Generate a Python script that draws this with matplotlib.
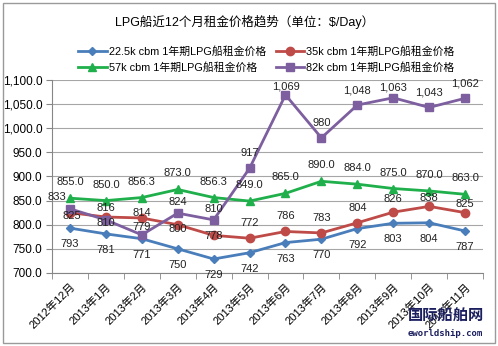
import matplotlib.pyplot as plt
from matplotlib.ticker import FuncFormatter, FixedLocator
from matplotlib.patches import Rectangle

plt.rcParams['font.family'] = ['Liberation Sans', 'Noto Sans CJK SC', 'DejaVu Sans']

months = ['2012年12月', '2013年1月', '2013年2月', '2013年3月', '2013年4月', '2013年5月',
          '2013年6月', '2013年7月', '2013年8月', '2013年9月', '2013年10月', '2013年11月']
s22 = [793, 781, 771, 750, 729, 742, 763, 770, 792, 803, 804, 787]
s35 = [825, 816, 814, 800, 778, 772, 786, 783, 804, 826, 838, 825]
s57 = [855.0, 850.0, 856.3, 873.0, 856.3, 849.0, 865.0, 890.0, 884.0, 875.0, 870.0, 863.0]
s82 = [833, 810, 779, 824, 810, 917, 1069, 980, 1048, 1063, 1043, 1062]
names = ['22.5k cbm 1年期LPG船租金价格', '35k cbm 1年期LPG船租金价格',
         '57k cbm 1年期LPG船租金价格', '82k cbm 1年期LPG船租金价格']

fig = plt.figure(figsize=(4.98, 3.46), dpi=100)
ax = fig.add_axes([0.1044, 0.211, 0.8656, 0.558])
x = list(range(len(months)))

styles = [
    dict(color='#4A7EBB', marker='D', ms=4.5, fmt='{:,.0f}', dy=16, over={}),
    dict(color='#BE4B48', marker='o', ms=6, fmt='{:,.0f}', dy=-15,
         over={0: (2, 3), 1: (0, -9), 2: (0, -5), 3: (0, 4), 4: (0, 1), 9: (0, -13), 10: (0, -8), 11: (0, -9)}),
    dict(color='#1FAF4B', marker='^', ms=6, fmt='{:,.1f}', dy=-16, over={}),
    dict(color='#7D5FA0', marker='s', ms=6, fmt='{:,.0f}', dy=-15,
         over={0: (-13, -12), 1: (0, 3), 2: (0, -8), 3: (0, -11), 4: (0, -11), 6: (0, -8), 9: (0, -10)}),
]

handles = []
for vals, name, st in zip([s22, s35, s57, s82], names, styles):
    h, = ax.plot(x, vals, color=st['color'], lw=2.0, marker=st['marker'], ms=st['ms'],
                 label=name, zorder=3)
    handles.append(h)
    for i, v in enumerate(vals):
        dx, dy = st['over'].get(i, (0, st['dy']))
        ax.annotate(st['fmt'].format(v), (i, v), xytext=(dx, -dy), textcoords='offset pixels',
                    ha='center', va='center', fontsize=8, color='#222222', zorder=4)

ax.set_xlim(-0.5, len(months) - 0.5)
ax.set_ylim(700, 1100)
ax.set_yticks(range(700, 1101, 50))
ax.yaxis.set_major_formatter(FuncFormatter(lambda v, p: '{:,.1f}'.format(v)))
ax.grid(axis='y', color='#A6A6A6', lw=0.8)
ax.set_axisbelow(True)

ax.set_xticks(x)
ax.set_xticklabels(months, rotation=45, ha='right', rotation_mode='anchor', fontsize=8)
ax.xaxis.set_minor_locator(FixedLocator([i - 0.5 for i in range(len(months) + 1)]))
ax.tick_params(axis='x', which='major', length=0, pad=6)
ax.tick_params(axis='x', which='minor', length=4, color='#868686')
ax.tick_params(axis='y', length=4, color='#868686', labelsize=8.5, pad=3)
for side in ['top', 'right']:
    ax.spines[side].set_visible(False)
for side in ['left', 'bottom']:
    ax.spines[side].set_color('#868686')

fig.text(0.492, 0.936, 'LPG船近12个月租金价格趋势（单位：$/Day）', ha='center', va='center', fontsize=9)
order = [0, 2, 1, 3]
fig.legend([handles[i] for i in order], [names[i] for i in order], loc='center',
           bbox_to_anchor=(0.535, 0.829), ncol=2, frameon=False, fontsize=7.8,
           handlelength=2.6, columnspacing=0.9, handletextpad=0.2, labelspacing=0.5)

fig.patches.append(Rectangle((3 / 498, 3 / 346), 492 / 498, 340 / 346, transform=fig.transFigure,
                             fill=False, ec='#9A9A9A', lw=1))
fig.text(0.895, 0.083, '国际船舶网', ha='center', va='center', fontsize=11, fontweight='bold', color='#1B1F5E')
fig.text(0.895, 0.035, 'eworldship.com', ha='center', va='center', fontsize=6.5, fontweight='bold',
         color='#1B1F5E', family='DejaVu Sans Mono')

fig.savefig('out.png', dpi=100)
